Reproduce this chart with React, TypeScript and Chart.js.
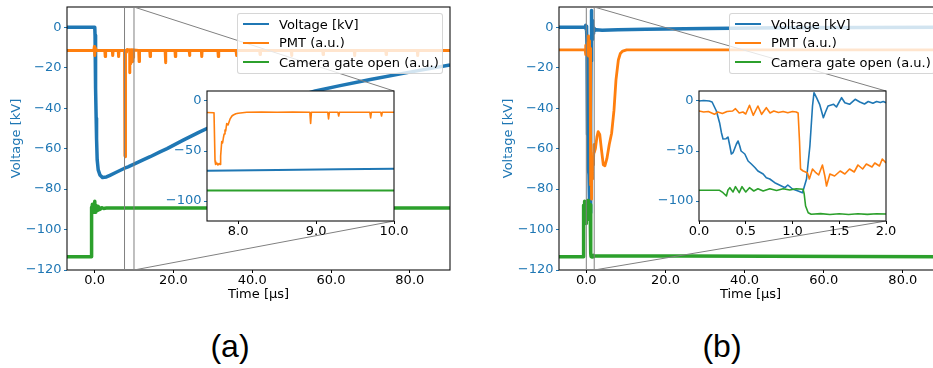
import React, { useEffect, useRef } from 'react';
import { Chart, registerables } from 'chart.js';

Chart.register(...registerables);

type Pt = [number, number];

const FONT = "'DejaVu Sans', 'Liberation Sans', sans-serif";
const BLUE = '#1f77b4';
const ORANGE = '#ff7f0e';
const GREEN = '#2ca02c';

// ---------- Panel (a) data: [time µs, value] ----------
const voltA: Pt[] = [
  [-7, 0], [0.05, 0], [0.12, -4], [0.2, -15], [0.3, -30], [0.4, -45], [0.5, -55], [0.66, -65.5],
  [0.92, -70.5], [1.35, -73], [2.0, -74.3], [3.0, -74], [3.9, -73.2], [5.5, -71.7], [7.6, -69.7],
  [8.5, -69], [9.3, -68.3], [10, -67.7], [12.3, -65.6], [14.1, -64], [16.6, -61.6], [18.4, -60],
  [22.5, -55.8], [26.7, -51.7], [30, -48.7], [35, -44.7], [40, -41.1], [45, -37.9], [50, -35],
  [56, -31.5], [62, -29], [70, -25.8], [80, -22.2], [90.2, -18.6],
];
const pmtA: Pt[] = [
  [-7, -11.5], [-0.2, -11.5], [-0.05, -9.5], [0.05, -14], [0.15, -10.5], [0.3, -11.5],
  [2.6, -11.5], [2.7, -14.5], [2.8, -11.5], [4.5, -11.5], [4.6, -14], [4.7, -11.5],
  [6.0, -11.5], [6.1, -14.5], [6.2, -11.5],
  [7.6, -11.5], [7.69, -11.8], [7.703, -60], [7.71, -63.5], [7.725, -62], [7.74, -64],
  [7.755, -62.5], [7.767, -63.5], [7.775, -55], [7.789, -40.5], [7.8, -42], [7.81, -37],
  [7.82, -33], [7.831, -29], [7.84, -30], [7.853, -22.5], [7.87, -24], [7.895, -18.2],
  [7.92, -15], [7.938, -14], [7.97, -12.8], [8.0, -12.3], [8.11, -11.3], [8.3, -11],
  [8.5, -11.3], [8.7, -11.1], [8.92, -11.3], [8.93, -22.5], [8.94, -11.3], [9.15, -11.3],
  [9.16, -18], [9.17, -11.3], [9.28, -11.3], [9.29, -15], [9.3, -11.3], [9.5, -11.2],
  [9.69, -11.3], [9.7, -17], [9.71, -11.3], [9.83, -11.3], [9.84, -15], [9.85, -11.3], [10.0, -11.3],
  [11.2, -11.5], [11.3, -17], [11.4, -11.5], [14.0, -11.5], [14.1, -14.5], [14.2, -11.5],
  [17.9, -11.5], [18.0, -17.5], [18.1, -11.5], [20.4, -11.5], [20.5, -14.5], [20.6, -11.5],
  [24.0, -11.5], [24.1, -14], [24.2, -11.5], [27.1, -11.5], [27.2, -14.5], [27.3, -11.5],
  [31.3, -11.5], [31.4, -14.5], [31.5, -11.5], [35.9, -11.5], [36.0, -14], [36.1, -11.5],
  [41.9, -11.5], [42.0, -13.5], [42.1, -11.5], [49.9, -11.5], [50.0, -14], [50.1, -11.5],
  [57.9, -11.5], [58.0, -13.5], [58.1, -11.5], [65.9, -11.5], [66.0, -14], [66.1, -11.5],
  [73.9, -11.5], [74.0, -13.5], [74.1, -11.5], [81.9, -11.5], [82.0, -14], [82.1, -11.5],
  [90.2, -11.5],
];
const gateA: Pt[] = [
  [-7, -113.5], [-0.9, -113.5], [-0.82, -89], [-0.7, -91], [-0.55, -87.5], [-0.4, -91.5],
  [-0.25, -88], [-0.1, -90.5], [0.05, -86], [0.15, -91.5], [0.3, -88], [0.45, -91],
  [0.65, -88.5], [0.85, -90.5], [1.1, -89], [1.4, -90], [1.8, -89.2], [2.3, -89.6], [3, -89.4],
  [90.2, -89.4],
];

// ---------- Panel (b) data ----------
const voltB: Pt[] = [
  [-7, 0], [-0.3, 0], [-0.15, 1], [-0.05, -1], [0, 0], [0.05, 0.5], [0.11, 0], [0.14, -1],
  [0.186, -10], [0.22, -21.7], [0.24, -31.7], [0.257, -38], [0.29, -37.7], [0.31, -36],
  [0.33, -45], [0.346, -53], [0.364, -51.7], [0.4, -43], [0.418, -40], [0.436, -45], [0.45, -50],
  [0.49, -53], [0.525, -60], [0.56, -63], [0.6, -66.7], [0.63, -70], [0.686, -73], [0.72, -76.7],
  [0.757, -78], [0.81, -81.7], [0.86, -84], [0.92, -86.7], [0.95, -84], [1.0, -88], [1.06, -90],
  [1.107, -91.7], [1.15, -78], [1.186, -45], [1.214, -5], [1.23, 8.3], [1.257, 3.3], [1.29, -3.3],
  [1.33, -16.7], [1.35, -11.7], [1.38, -5], [1.44, -3.3], [1.47, -6], [1.525, 3.3], [1.56, -1.7],
  [1.61, -3.3], [1.67, 1.7], [1.72, -1], [1.77, -3], [1.81, -0.5], [1.86, -2.3], [1.9, -0.5],
  [1.94, -1.5], [1.97, -0.5], [2.0, -1.7], [2.5, -1.3], [4, -1.5], [8, -1.3], [15, -1],
  [30, -0.6], [50, -0.3], [70, -0.1], [90, 0],
];
const pmtB: Pt[] = [
  [-7, -11.2], [-0.3, -11.2], [-0.2, -9], [-0.1, -13.5], [-0.03, -9.5], [0, -10], [0.05, -11],
  [0.1, -10.5], [0.165, -13.3], [0.2, -11], [0.25, -12.5], [0.3, -10.5], [0.36, -10], [0.39, -7.7],
  [0.43, -12], [0.47, -11], [0.5, -13], [0.54, -4.3], [0.58, -14.3], [0.63, -5], [0.67, -13.3],
  [0.72, -6.7], [0.76, -12], [0.8, -10], [0.85, -11.5], [0.9, -10.5], [0.95, -11.7], [1.0, -10.5],
  [1.04, -11], [1.06, -12], [1.075, -40], [1.086, -68], [1.114, -70], [1.14, -71], [1.16, -72],
  [1.18, -78], [1.214, -68], [1.25, -71.7], [1.28, -74], [1.32, -64], [1.346, -75], [1.364, -85],
  [1.4, -73], [1.45, -75], [1.51, -70], [1.56, -73], [1.61, -68], [1.66, -71], [1.7, -64],
  [1.75, -68], [1.79, -63], [1.85, -66], [1.88, -62], [1.93, -65], [1.96, -58], [2.0, -62],
  [2.3, -60], [2.7, -54], [3.0, -51.6], [3.4, -53], [3.8, -60], [4.3, -68], [4.7, -68.5],
  [5.2, -65], [5.8, -58], [6.4, -52.4], [7.0, -41], [7.5, -26], [8.1, -16.2], [8.6, -13],
  [9.2, -11.8], [10.2, -11.2], [90, -11.2],
];
const gateB: Pt[] = [
  [-7, -113.5], [-0.72, -113.5], [-0.68, -88], [-0.55, -92], [-0.42, -86], [-0.3, -96],
  [-0.18, -88], [-0.07, -97], [0, -89.3], [0.22, -89.3], [0.257, -91.7], [0.293, -95], [0.31, -89],
  [0.33, -86.7], [0.364, -91], [0.39, -85.7], [0.43, -91.7], [0.46, -85.7], [0.5, -91],
  [0.54, -86.7], [0.586, -90], [0.63, -87.7], [0.686, -90], [0.757, -87.7], [0.83, -89.5],
  [0.9, -87.7], [0.97, -89], [1.04, -87.7], [1.114, -88.3], [1.125, -93], [1.14, -105],
  [1.168, -111.7], [1.2, -113.3], [1.3, -112.6], [1.4, -113.5], [1.5, -112.8], [1.6, -113.5],
  [1.7, -112.8], [1.8, -113.4], [1.9, -112.8], [2.0, -113], [90, -113.5],
];

// ---------- Axes / ticks ----------
const mainXTicks = [0, 20, 40, 60, 80];
const mainYTicks = [-120, -100, -80, -60, -40, -20, 0];
const insetYTicks = [-100, -50, 0];
const insetXTicksA = [8, 9, 10];
const insetXTicksB = [0, 0.5, 1, 1.5, 2];
const xRangeA: [number, number] = [-7, 90.2];
const xRangeB: [number, number] = [-6.9, 89.9];
const zoomA: [number, number] = [7.6, 10];
const zoomB: [number, number] = [0, 2];
const yRange: [number, number] = [-120, 10];

const seriesLabels = ['Voltage [kV]', 'PMT (a.u.)', 'Camera gate open (a.u.)'];
const seriesColors = [BLUE, ORANGE, GREEN];

const fmtY = (v: number) => (v < 0 ? '\u2212' + Math.abs(v) : String(v));
const fmtX = (v: number) => v.toFixed(1);

const framePlugin = {
  id: 'frame',
  beforeDraw(chart: any, _a: any, opts: any) {
    if (opts && opts.fill) {
      const a = chart.chartArea;
      const ctx = chart.ctx;
      ctx.save();
      ctx.fillStyle = '#ffffff';
      ctx.fillRect(a.left, a.top, a.right - a.left, a.bottom - a.top);
      ctx.restore();
    }
  },
  afterDatasetsDraw(chart: any) {
    const a = chart.chartArea;
    const ctx = chart.ctx;
    ctx.save();
    ctx.strokeStyle = '#111';
    ctx.lineWidth = 1.1;
    ctx.strokeRect(a.left, a.top, a.right - a.left, a.bottom - a.top);
    ctx.restore();
  },
};

interface Cfg {
  series: Pt[][];
  widths: number[];
  xRange: [number, number];
  xTicks: number[];
  yTicks: number[];
  padTop: number;
  padRight: number;
  yWidth: number;
  xHeight: number;
  titles: boolean;
  fill: boolean;
}

function buildConfig(p: Cfg): any {
  return {
    type: 'line',
    data: {
      datasets: p.series.map((s, i) => ({
        label: seriesLabels[i],
        data: s.map(([x, y]) => ({ x, y })),
        borderColor: seriesColors[i],
        backgroundColor: seriesColors[i],
        borderWidth: p.widths[i],
        pointRadius: 0,
        pointHoverRadius: 0,
        fill: false,
        tension: 0,
        borderJoinStyle: 'round',
        clip: 0,
        order: 2 - i,
      })),
    },
    options: {
      animation: false,
      responsive: false,
      maintainAspectRatio: false,
      devicePixelRatio: 1,
      events: [],
      layout: { padding: { left: 0, top: p.padTop, right: p.padRight, bottom: 0 } },
      plugins: {
        legend: { display: false },
        tooltip: { enabled: false },
        frame: { fill: p.fill },
      },
      scales: {
        x: {
          type: 'linear',
          min: p.xRange[0],
          max: p.xRange[1],
          afterBuildTicks: (s: any) => {
            s.ticks = p.xTicks.map((v) => ({ value: v }));
          },
          afterFit: (s: any) => {
            s.height = p.xHeight;
            s.paddingLeft = 0;
            s.paddingRight = 0;
            s.paddingTop = 0;
            s.paddingBottom = 0;
          },
          ticks: {
            color: '#000',
            font: { size: 13, family: FONT, lineHeight: 1.2 },
            padding: 0,
            maxRotation: 0,
            autoSkip: false,
            callback: (v: any) => fmtX(Number(v)),
          },
          grid: {
            display: true,
            drawOnChartArea: false,
            drawTicks: true,
            tickLength: 3,
            color: '#000',
            tickColor: '#000',
            tickWidth: 1,
          },
          border: { display: false },
          title: p.titles
            ? {
                display: true,
                text: 'Time [\u03bcs]',
                color: '#000',
                font: { size: 13, family: FONT, lineHeight: 1.2 },
                padding: { top: 0, bottom: 4.4 },
              }
            : { display: false },
        },
        y: {
          type: 'linear',
          min: yRange[0],
          max: yRange[1],
          afterBuildTicks: (s: any) => {
            s.ticks = p.yTicks.map((v) => ({ value: v }));
          },
          afterFit: (s: any) => {
            s.width = p.yWidth;
            s.paddingLeft = 0;
            s.paddingRight = 0;
            s.paddingTop = 0;
            s.paddingBottom = 0;
          },
          ticks: {
            color: BLUE,
            font: { size: 13, family: FONT, lineHeight: 1.2 },
            padding: 2.5,
            autoSkip: false,
            callback: (v: any) => fmtY(Number(v)),
          },
          grid: {
            display: true,
            drawOnChartArea: false,
            drawTicks: true,
            tickLength: 3,
            color: BLUE,
            tickColor: BLUE,
            tickWidth: 1,
          },
          border: { display: false },
          title: p.titles
            ? {
                display: true,
                text: 'Voltage [kV]',
                color: BLUE,
                font: { size: 13, family: FONT, lineHeight: 1.2 },
                padding: { top: 9, bottom: 0 },
              }
            : { display: false },
        },
      },
    },
    plugins: [framePlugin],
  };
}

// geometry (panel-local)
const MAIN_W = 470;
const MAIN_H = 307;
const INSET_LEFT = 162;
const INSET_TOP = 86;
const INSET_W = 252;
const INSET_H = 165;

function Legend() {
  const rowTops = [0.5, 19.4, 38.6];
  return (
    <div
      style={{
        position: 'absolute',
        left: 237,
        top: 13,
        width: 206,
        height: 61,
        boxSizing: 'border-box',
        background: 'rgba(255,255,255,0.8)',
        border: '1px solid rgba(204,204,204,0.8)',
        borderRadius: 3,
      }}
    >
      {seriesLabels.map((t, i) => (
        <div key={t} style={{ position: 'absolute', left: 0, top: rowTops[i], height: 19, width: 204 }}>
          <div
            style={{
              position: 'absolute',
              left: 4.5,
              top: 8.75,
              width: 26.5,
              height: 1.5,
              background: seriesColors[i],
            }}
          />
          <div
            style={{
              position: 'absolute',
              left: 41,
              top: 0,
              lineHeight: '19px',
              fontSize: 13,
              fontFamily: FONT,
              color: '#000',
              whiteSpace: 'nowrap',
            }}
          >
            {t}
          </div>
        </div>
      ))}
    </div>
  );
}

interface PanelProps {
  offset: number;
  series: Pt[][];
  xRange: [number, number];
  zoom: [number, number];
  insetXTicks: number[];
  mainWidths: number[];
  insetWidths: number[];
  label: string;
}

function Panel(props: PanelProps) {
  const mainRef = useRef<HTMLCanvasElement>(null);
  const insetRef = useRef<HTMLCanvasElement>(null);
  const overRef = useRef<HTMLCanvasElement>(null);

  useEffect(() => {
    const main = new Chart(
      mainRef.current as HTMLCanvasElement,
      buildConfig({
        series: props.series,
        widths: props.mainWidths,
        xRange: props.xRange,
        xTicks: mainXTicks,
        yTicks: mainYTicks,
        padTop: 7,
        padRight: 20,
        yWidth: 67,
        xHeight: 37,
        titles: true,
        fill: false,
      })
    );
    const inset = new Chart(
      insetRef.current as HTMLCanvasElement,
      buildConfig({
        series: props.series,
        widths: props.insetWidths,
        xRange: props.zoom,
        xTicks: props.insetXTicks,
        yTicks: insetYTicks,
        padTop: 5,
        padRight: 20,
        yWidth: 45,
        xHeight: 30,
        titles: false,
        fill: true,
      })
    );
    const cv = overRef.current as HTMLCanvasElement;
    const ctx = cv.getContext('2d') as CanvasRenderingContext2D;
    ctx.clearRect(0, 0, cv.width, cv.height);
    const ca = main.chartArea;
    const xs: any = main.scales.x;
    const ia = inset.chartArea;
    const x0 = xs.getPixelForValue(props.zoom[0]);
    const x1 = xs.getPixelForValue(props.zoom[1]);
    ctx.strokeStyle = '#808080';
    ctx.lineWidth = 1;
    ctx.beginPath();
    ctx.moveTo(x0, ca.top);
    ctx.lineTo(x0, ca.bottom);
    ctx.moveTo(x1, ca.top);
    ctx.lineTo(x1, ca.bottom);
    ctx.moveTo(x1, ca.top);
    ctx.lineTo(INSET_LEFT + ia.right, INSET_TOP + ia.top);
    ctx.moveTo(x1, ca.bottom);
    ctx.lineTo(INSET_LEFT + ia.right, INSET_TOP + ia.bottom);
    ctx.stroke();
    return () => {
      main.destroy();
      inset.destroy();
    };
  }, []);

  return (
    <div style={{ position: 'absolute', left: props.offset, top: 0, width: 492, height: 368 }}>
      <canvas
        ref={mainRef}
        width={MAIN_W}
        height={MAIN_H}
        style={{ position: 'absolute', left: 0, top: 0, width: MAIN_W, height: MAIN_H }}
      />
      <canvas
        ref={overRef}
        width={MAIN_W}
        height={MAIN_H}
        style={{ position: 'absolute', left: 0, top: 0, width: MAIN_W, height: MAIN_H, pointerEvents: 'none' }}
      />
      <Legend />
      <canvas
        ref={insetRef}
        width={INSET_W}
        height={INSET_H}
        style={{ position: 'absolute', left: INSET_LEFT, top: INSET_TOP, width: INSET_W, height: INSET_H }}
      />
      <div
        style={{
          position: 'absolute',
          left: 130,
          top: 330,
          width: 200,
          textAlign: 'center',
          fontFamily: "'Liberation Sans', sans-serif",
          fontSize: 32,
          lineHeight: '32px',
          color: '#000',
        }}
      >
        {props.label}
      </div>
    </div>
  );
}

export default function App() {
  return (
    <div
      style={{
        position: 'fixed',
        left: 0,
        top: 0,
        width: 933,
        height: 368,
        overflow: 'hidden',
        background: '#ffffff',
      }}
    >
      <Panel
        offset={0}
        series={[voltA, pmtA, gateA]}
        xRange={xRangeA}
        zoom={zoomA}
        insetXTicks={insetXTicksA}
        mainWidths={[3.5, 3, 3.5]}
        insetWidths={[2, 1.6, 2]}
        label="(a)"
      />
      <Panel
        offset={492}
        series={[voltB, pmtB, gateB]}
        xRange={xRangeB}
        zoom={zoomB}
        insetXTicks={insetXTicksB}
        mainWidths={[3.5, 2.8, 3.5]}
        insetWidths={[1.6, 1.6, 1.6]}
        label="(b)"
      />
    </div>
  );
}
